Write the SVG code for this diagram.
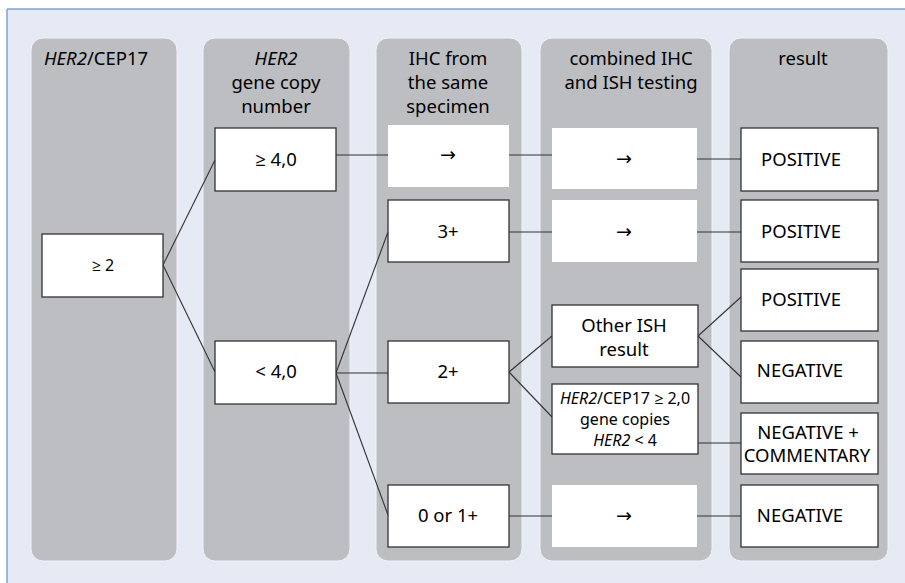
<svg xmlns="http://www.w3.org/2000/svg" width="905" height="583" viewBox="0 0 905 583">
<style>
  text { font-family: "Noto Sans", "Open Sans", sans-serif; fill: #000; }
  .hd { font-size: 18.5px; text-anchor: middle; }
  .bt { font-size: 18.5px; text-anchor: middle; }
  .sm { font-size: 16px; text-anchor: middle; }
  .col { fill: #bdbec2; stroke: #f2f3f7; stroke-width: 1; }
  .box { fill: #fff; stroke: #333; stroke-width: 1.3; }
  .wbox { fill: #fff; stroke: none; }
  .arr { font-family: "DejaVu Sans", sans-serif; font-size: 19px; text-anchor: middle; }
  .conn line { stroke: #333; stroke-width: 1.1; }
  .it { font-style: italic; }
</style>
<rect x="0" y="0" width="905" height="583" fill="#ffffff"/>
<rect x="7" y="9" width="898" height="574" fill="#e6eaf5"/>
<line x1="7" y1="9" x2="905" y2="9" stroke="#7fa3d3" stroke-width="1.5"/>
<line x1="7" y1="9" x2="7" y2="583" stroke="#7fa3d3" stroke-width="1.5"/>

<g id="columns">
  <rect class="col" x="31" y="38" width="146" height="523" rx="12"/>
  <rect class="col" x="203" y="38" width="147" height="523" rx="12"/>
  <rect class="col" x="376" y="38" width="146" height="523" rx="12"/>
  <rect class="col" x="540" y="38" width="172" height="523" rx="12"/>
  <rect class="col" x="729" y="38" width="159" height="523" rx="12"/>
</g>

<g id="headers">
  <text x="44" y="65" font-size="18.5"><tspan class="it">HER2</tspan>/CEP17</text>
  <text class="hd" x="276" y="65"><tspan class="it">HER2</tspan></text>
  <text class="hd" x="276" y="89">gene copy</text>
  <text class="hd" x="276" y="113">number</text>
  <text class="hd" x="448" y="65">IHC from</text>
  <text class="hd" x="448" y="89">the same</text>
  <text class="hd" x="448" y="113">specimen</text>
  <text class="hd" x="631" y="65">combined IHC</text>
  <text class="hd" x="631" y="89">and ISH testing</text>
  <text class="hd" x="803" y="65">result</text>
</g>

<g id="connectors" class="conn">
  <line x1="163" y1="265" x2="215" y2="160"/>
  <line x1="163" y1="265" x2="215" y2="372"/>
  <line x1="336" y1="155" x2="388" y2="155"/>
  <line x1="509" y1="155" x2="552" y2="155"/>
  <line x1="697" y1="159" x2="741" y2="159"/>
  <line x1="336" y1="373" x2="388" y2="232"/>
  <line x1="336" y1="373" x2="388" y2="373"/>
  <line x1="336" y1="373" x2="388" y2="515"/>
  <line x1="509" y1="232" x2="552" y2="232"/>
  <line x1="697" y1="232" x2="741" y2="232"/>
  <line x1="509" y1="372" x2="552" y2="336"/>
  <line x1="509" y1="372" x2="552" y2="417"/>
  <line x1="698" y1="336" x2="741" y2="297"/>
  <line x1="698" y1="336" x2="741" y2="377"/>
  <line x1="698" y1="443" x2="741" y2="443"/>
  <line x1="509" y1="516" x2="552" y2="516"/>
  <line x1="697" y1="516" x2="741" y2="516"/>
</g>

<g id="n-ratio">
  <rect class="box" x="42" y="234" width="121" height="63"/>
  <text class="sm" x="103" y="271" font-size="15">≥ 2</text>
</g>
<g id="n-ge4">
  <rect class="box" x="215" y="128" width="121" height="63"/>
  <text class="bt" x="276" y="166">≥ 4,0</text>
</g>
<g id="n-lt4">
  <rect class="box" x="215" y="341" width="121" height="63"/>
  <text class="bt" x="276" y="378">&lt; 4,0</text>
</g>
<g id="n-ihc-arrow">
  <rect class="wbox" x="388" y="125" width="121" height="62"/>
  <text class="arr" x="448" y="161">→</text>
</g>
<g id="n-3plus">
  <rect class="box" x="388" y="200" width="121" height="62"/>
  <text class="bt" x="448" y="238">3+</text>
</g>
<g id="n-2plus">
  <rect class="box" x="388" y="341" width="121" height="62"/>
  <text class="bt" x="448" y="378">2+</text>
</g>
<g id="n-01plus">
  <rect class="box" x="388" y="485" width="121" height="62"/>
  <text class="bt" x="448" y="522">0 or 1+</text>
</g>
<g id="n-comb-arrow1">
  <rect class="wbox" x="552" y="128" width="145" height="61"/>
  <text class="arr" x="624" y="165">→</text>
</g>
<g id="n-comb-arrow2">
  <rect class="wbox" x="552" y="200" width="145" height="62"/>
  <text class="arr" x="624" y="238">→</text>
</g>
<g id="n-other-ish">
  <rect class="box" x="552" y="305" width="146" height="62"/>
  <text class="bt" x="624" y="332">Other ISH</text>
  <text class="bt" x="624" y="356">result</text>
</g>
<g id="n-ratio-copies">
  <rect class="box" x="552" y="384" width="146" height="70"/>
  <text class="sm" x="625" y="404"><tspan class="it">HER2</tspan>/CEP17 ≥ 2,0</text>
  <text class="sm" x="625" y="425">gene copies</text>
  <text class="sm" x="625" y="446"><tspan class="it">HER2</tspan> &lt; 4</text>
</g>
<g id="n-comb-arrow3">
  <rect class="wbox" x="552" y="485" width="145" height="62"/>
  <text class="arr" x="624" y="522">→</text>
</g>
<g id="r-pos1">
  <rect class="box" x="741" y="128" width="137" height="63"/>
  <text class="bt" x="801" y="166">POSITIVE</text>
</g>
<g id="r-pos2">
  <rect class="box" x="741" y="200" width="137" height="62"/>
  <text class="bt" x="801" y="238">POSITIVE</text>
</g>
<g id="r-pos3">
  <rect class="box" x="741" y="269" width="137" height="62"/>
  <text class="bt" x="801" y="306">POSITIVE</text>
</g>
<g id="r-neg1">
  <rect class="box" x="741" y="341" width="137" height="62"/>
  <text class="bt" x="800" y="377">NEGATIVE</text>
</g>
<g id="r-negcomm">
  <rect class="box" x="741" y="413" width="137" height="61"/>
  <text class="bt" x="808" y="439">NEGATIVE +</text>
  <text class="bt" x="807" y="462">COMMENTARY</text>
</g>
<g id="r-neg2">
  <rect class="box" x="741" y="485" width="137" height="62"/>
  <text class="bt" x="800" y="522">NEGATIVE</text>
</g>
</svg>
